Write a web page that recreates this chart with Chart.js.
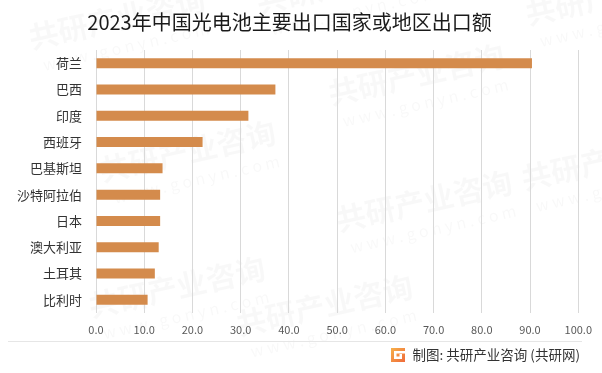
<!DOCTYPE html>
<html>
<head>
<meta charset="utf-8">
<script src="https://cdn.jsdelivr.net/npm/chart.js@4"></script>
<style>
  html, body { margin: 0; padding: 0; background: #fff; }
  #wrap { width: 602px; height: 373px; position: relative; }
</style>
</head>
<body>
<div id="wrap"><canvas id="chart"></canvas></div>
<script>
// 2023年中国光电池主要出口国家或地区出口额
const countries = ["荷兰", "巴西", "印度", "西班牙", "巴基斯坦", "沙特阿拉伯", "日本", "澳大利亚", "土耳其", "比利时"];
const exportValues = [90.4, 37.2, 31.6, 22.1, 13.8, 13.3, 13.3, 13.0, 12.2, 10.7];
const xMin = 0;
const xMax = 100;
const xStep = 10;

const FONT = "'Noto Sans CJK SC', 'Noto Sans', sans-serif";

// faint watermark + footer
const decor = {
    id: "decor",
    beforeDraw(chart) {
        const ctx = chart.ctx;
        ctx.save();
        ctx.fillStyle = "#fff";
        ctx.fillRect(0, 0, chart.width, chart.height);
        const marks = [[20, 55], [250, 70], [420, 20], [60, 200], [300, 175], [510, 140], [20, 330], [280, 300], [470, 300], [160, 380]];
        ctx.rotate(-0.22);
        for (const [x, y] of marks) {
            ctx.fillStyle = "rgba(0,0,0,0.028)";
            ctx.font = "bold 30px " + FONT;
            ctx.fillText("共研产业咨询", x, y);
            ctx.font = "16px " + FONT;
            ctx.fillText("w w w . g o n y n . c o m", x + 8, y + 24);
        }
        ctx.restore();
    },
    afterDraw(chart) {
        const ctx = chart.ctx;
        ctx.save();
        ctx.strokeStyle = "#e6e6e6";
        ctx.lineWidth = 1;
        ctx.beginPath();
        ctx.moveTo(8, 341.5);
        ctx.lineTo(582, 341.5);
        ctx.stroke();

        // logo
        const g = ctx.createLinearGradient(391, 348, 405, 362);
        g.addColorStop(0, "#f7b04a");
        g.addColorStop(1, "#ef6a3a");
        ctx.fillStyle = g;
        ctx.fillRect(391, 348, 14, 14);
        ctx.fillStyle = "#fff";
        ctx.fillRect(394, 351, 11, 2.5);
        ctx.fillRect(394, 351, 2.5, 8);
        ctx.fillRect(394, 356.5, 8, 2.5);
        ctx.fillRect(399.5, 354, 2.5, 3);

        ctx.fillStyle = "#333";
        ctx.font = "13.5px " + FONT;
        ctx.textBaseline = "middle";
        ctx.textAlign = "right";
        ctx.fillText("制图: 共研产业咨询 (共研网)", 580, 355);
        ctx.restore();
    }
};

new Chart(document.getElementById("chart"), {
    type: "bar",
    data: {
        labels: countries,
        datasets: [{
            label: "出口额",
            data: exportValues,
            backgroundColor: "#d48b4c",
            categoryPercentage: 1,
            barPercentage: 0.38
        }]
    },
    options: {
        indexAxis: "y",
        responsive: true,
        maintainAspectRatio: false,
        animation: false,
        layout: { padding: { left: 0, right: 23, top: 0, bottom: 30 } },
        plugins: {
            legend: { display: false },
            tooltip: { enabled: false },
            title: {
                display: true,
                text: "2023年中国光电池主要出口国家或地区出口额",
                color: "#1a1a1a",
                font: { family: FONT, size: 20, weight: "normal" },
                padding: { top: 10, bottom: 16 }
            }
        },
        scales: {
            x: {
                min: xMin,
                max: xMax,
                afterFit(s) { s.height = 30; },
                ticks: {
                    stepSize: xStep,
                    padding: 10,
                    color: "#595959",
                    font: { family: FONT, size: 11 },
                    callback: v => v.toFixed(1)
                },
                grid: { color: "#d9d9d9", drawTicks: false },
                border: { display: false }
            },
            y: {
                afterFit(s) { s.width = 96; },
                ticks: {
                    padding: 14,
                    color: "#333",
                    font: { family: FONT, size: 13 }
                },
                grid: { display: false, drawTicks: false },
                border: { display: false }
            }
        }
    },
    plugins: [decor]
});
</script>
</body>
</html>
